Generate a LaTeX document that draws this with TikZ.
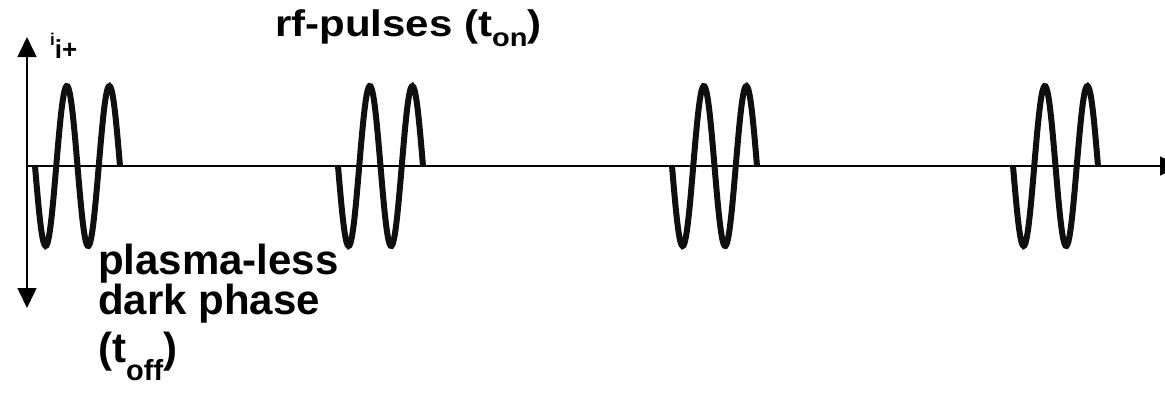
\documentclass[tikz,border=0pt]{standalone}
\usepackage{fontspec}
\setmainfont{Liberation Sans}
\usepackage{tikz}
\usetikzlibrary{arrows.meta}
\definecolor{PulseBlack}{RGB}{15,15,15}
\newcommand{\lowsub}[2]{\raisebox{-#1}{\fontsize{29}{29}\selectfont #2}}

\begin{document}
\begin{tikzpicture}[x=1pt, y=-1pt,
          axis/.style={line width=1.6pt, black},
          axtip/.tip={Triangle[length=20pt, width=19pt]},
          pulse/.style={line width=6pt, PulseBlack},
          lbl/.style={font=\bfseries, inner sep=0pt, anchor=base west}
        ]
        \useasboundingbox (0,0) rectangle (1165,392);

        % axes
        \coordinate (origin) at (27,166);
        \coordinate (ytop) at (27,37);
        \coordinate (ybot) at (27,308);
        \coordinate (xend) at (1180,166);
        \draw[axis, axtip-axtip] (ybot) -- (ytop);
        \draw[axis, -axtip] (origin) -- (xend);

        % rf bursts, two periods each
        \foreach \s in {35, 338, 672, 1013} {
          \draw[pulse] plot[domain=0:85, samples=90, smooth]
                ({\s+\x}, {166+80*sin(\x/42.5*360)});
        }

        \node[lbl, font=\bfseries\fontsize{26}{26}\selectfont] (ylabel) at (50,58)
              {\raisebox{13pt}{\fontsize{17}{17}\selectfont i}i+};
        \node[lbl, font=\bfseries\fontsize{42}{42}\selectfont] (onlabel) at (275,36)
              {\scalebox{1}[0.88]{rf-pulses (t\lowsub{12pt}{on})}};
        \node[lbl, align=left, font=\bfseries\fontsize{42}{38.5}\selectfont] (offlabel)
              at (98,362) {plasma-less\\dark phase\\[7pt](t\lowsub{18pt}{off})};
      \end{tikzpicture}
\end{document}
